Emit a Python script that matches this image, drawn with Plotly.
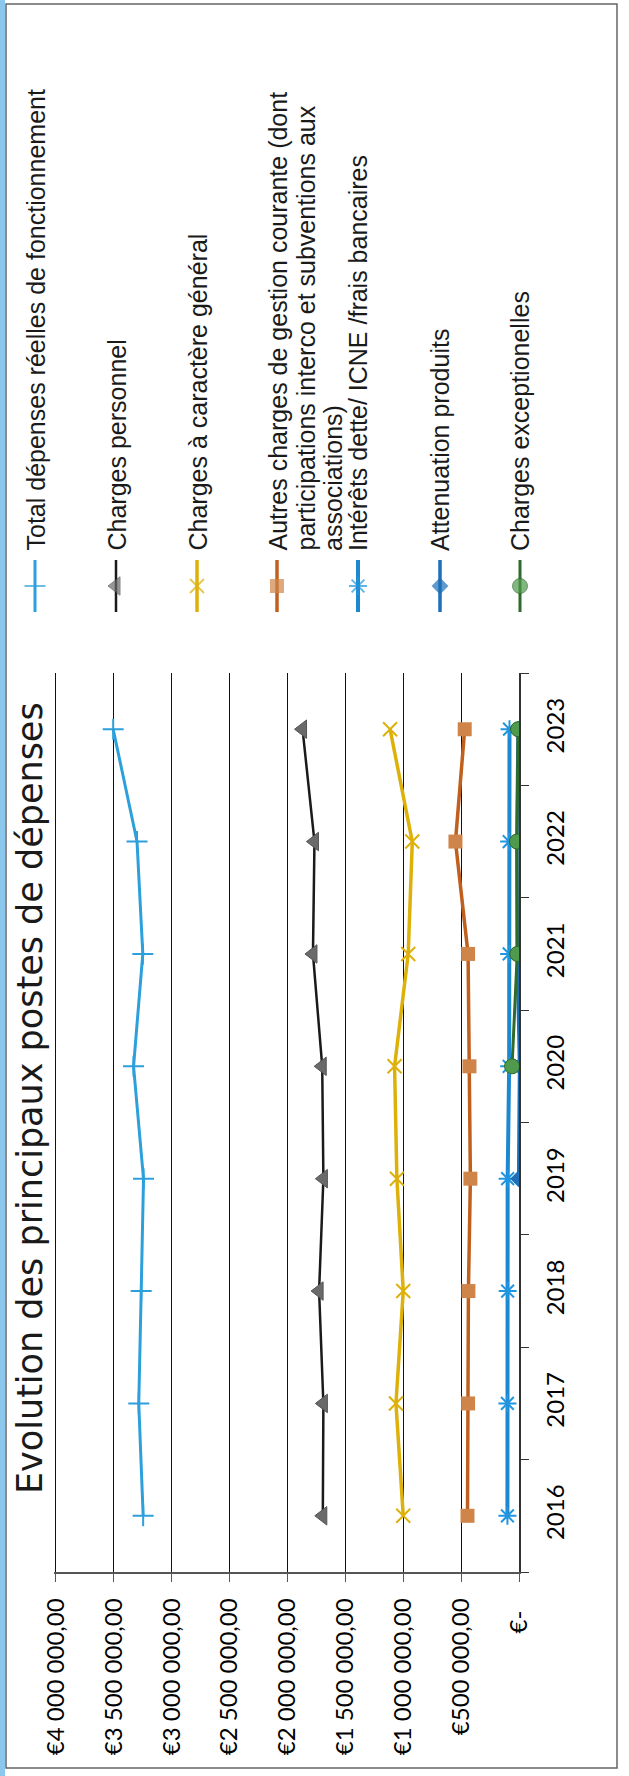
import plotly.graph_objects as go

W, H = 629, 1776

# ---------------- data ----------------
years = ["2016", "2017", "2018", "2019", "2020", "2021", "2022", "2023"]

total = [3247000, 3285000, 3264000, 3244000, 3330000, 3250000, 3300000, 3506000]
personnel = [1695000, 1690000, 1727000, 1690000, 1700000, 1780000, 1767000, 1870000]
general = [1000000, 1063000, 1000000, 1055000, 1075000, 957000, 922000, 1114000]
autres = [445000, 440000, 437000, 420000, 428000, 440000, 549000, 469000]
interets = [100000, 100000, 98000, 98000, 85000, 85000, 85000, 82000]
attenuation = [None, None, None, 3000, -5000, 15000, 18000, 8000]
exceptionnelles = [None, None, None, None, 60000, 15000, 18000, 8000]

value_ticks = [0, 500000, 1000000, 1500000, 2000000, 2500000, 3000000, 3500000, 4000000]
NB = "\u00a0"
value_labels = ["€-" + NB + NB,
                "€500" + NB + "000,00",
                "€1" + NB + "000" + NB + "000,00",
                "€1" + NB + "500" + NB + "000,00",
                "€2" + NB + "000" + NB + "000,00",
                "€2" + NB + "500" + NB + "000,00",
                "€3" + NB + "000" + NB + "000,00",
                "€3" + NB + "500" + NB + "000,00",
                "€4" + NB + "000" + NB + "000,00"]

title_text = "Evolution des principaux postes de dépenses"

# series styles: name, values, line colour, line width, symbol, marker size, marker fill, marker line colour, marker line width
series = [
    ("Total dépenses réelles de fonctionnement", total, "#2DA0DC", 3, "cross-thin", 15, "#2DA0DC", "#2DA0DC", 2),
    ("Charges personnel", personnel, "#1A1A1A", 2.5, "triangle-left", 16, "#6A6A6A", "#555555", 1),
    ("Charges à caractère général", general, "#DDB10A", 3.5, "x-thin", 14, "#DDB10A", "#DDB10A", 2),
    ("Autres charges de gestion courante", autres, "#C0601E", 3.5, "square", 14, "#CF8549", "#CF8549", 0),
    ("Intérêts dette/ ICNE /frais bancaires", interets, "#1C88D0", 4, "asterisk-open", 15, "#2196E0", "#2196E0", 2),
    ("Attenuation produits", attenuation, "#1D6FB8", 3.5, "diamond", 13, "#1D6FB8", "#1D6FB8", 0),
    ("Charges exceptionelles", exceptionnelles, "#2F6B2A", 3, "circle", 15, "#4F9A4C", "#2F6B2A", 1),
]

legend_texts = [
    ["Total dépenses réelles de fonctionnement"],
    ["Charges personnel"],
    ["Charges à caractère général"],
    ["Autres charges de gestion courante (dont",
     "participations interco et subventions aux",
     "associations)"],
    ["Intérêts dette/ ICNE /frais bancaires"],
    ["Attenuation produits"],
    ["Charges exceptionelles"],
]

# ---------------- layout geometry (pixels) ----------------
X_MAX = 4020000          # axis range end (slightly beyond last gridline so it is drawn)
PR, PT, PB = 519, 673, 1572
GRID4M = 56              # pixel position of the €4 000 000 gridline
PL = PR - (PR - GRID4M) * X_MAX / 4000000
LEG_X = [35, 116, 197, 277, 358, 440, 520]
LEG_LINE_STEP = 28
LEG_TOP, LEG_MID, LEG_BOT = 560, 586, 612
LEG_TEXT_BOTTOM = 553

fig = go.Figure()

for name, vals, lc, lw, sym, ms, mf, mlc, mlw in series:
    fig.add_trace(go.Scatter(
        x=vals, y=years, mode="lines+markers", name=name,
        line=dict(color=lc, width=lw),
        marker=dict(symbol=sym, size=ms, color=mf, line=dict(color=mlc, width=mlw)),
        connectgaps=False, showlegend=False, xaxis="x", yaxis="y",
        hoverinfo="skip"))

# legend symbols (drawn manually in pixel space, rotated layout)
annotations = []
for (name, vals, lc, lw, sym, ms, mf, mlc, mlw), lx, lines in zip(series, LEG_X, legend_texts):
    fig.add_trace(go.Scatter(
        x=[lx, lx, lx], y=[LEG_TOP, LEG_MID, LEG_BOT], mode="lines+markers",
        line=dict(color=lc, width=lw),
        marker=dict(symbol=sym, size=[0, ms, 0], color=mf, line=dict(color=mlc, width=mlw)),
        showlegend=False, xaxis="x2", yaxis="y2", hoverinfo="skip"))
    for k, t in enumerate(lines):
        annotations.append(dict(
            x=lx + k * LEG_LINE_STEP, y=LEG_TEXT_BOTTOM, xref="x2", yref="y2",
            text=t, textangle=-90, showarrow=False,
            xanchor="center", yanchor="bottom", align="left",
            font=dict(family="Liberation Sans", size=25, color="#1A1A1A")))

annotations.append(dict(
    x=30, y=1098, xref="x2", yref="y2", text=title_text, textangle=-90,
    showarrow=False, xanchor="center", yanchor="middle",
    font=dict(family="DejaVu Sans", size=35, color="#1A1A1A")))

shapes = [
    dict(type="rect", xref="x2", yref="y2", x0=0, x1=5, y0=0, y1=H,
         fillcolor="#8CC8EE", line=dict(width=0), layer="below"),
    dict(type="rect", xref="x2", yref="y2", x0=6, x1=617, y0=4, y1=1768,
         fillcolor="rgba(0,0,0,0)", line=dict(color="#666666", width=1.5), layer="below"),
]

tickfont = dict(family="Lato", size=24, color="#000000")

fig.update_layout(
    width=W, height=H,
    margin=dict(l=0, r=0, t=0, b=0),
    paper_bgcolor="white", plot_bgcolor="rgba(0,0,0,0)",
    showlegend=False,
    annotations=annotations, shapes=shapes,
    xaxis=dict(domain=[PL / W, PR / W], range=[X_MAX, 0],
               tickvals=value_ticks, ticktext=value_labels, tickangle=-90,
               ticks="outside", ticklen=8, tickwidth=1.3, tickcolor="#555555",
               showline=True, linecolor="#555555", linewidth=1.5,
               showgrid=True, gridcolor="#111111", gridwidth=1.3, zeroline=False,
               tickfont=tickfont, ticklabelstandoff=7, anchor="y",
               automargin=False, fixedrange=True),
    yaxis=dict(domain=[1 - PB / H, 1 - PT / H], type="category",
               categoryorder="array", categoryarray=years, range=[-0.5, 7.5],
               side="right", showline=True, linecolor="#333333", linewidth=1.5,
               ticks="outside", tickson="boundaries", ticklen=8, tickwidth=1.3,
               tickcolor="#333333", tickangle=-90, tickfont=tickfont,
               showgrid=False, zeroline=False, ticklabelstandoff=14,
               anchor="x", automargin=False, fixedrange=True),
    xaxis2=dict(domain=[0, 1], range=[0, W], visible=False, anchor="y2", fixedrange=True),
    yaxis2=dict(domain=[0, 1], range=[H, 0], visible=False, anchor="x2", fixedrange=True),
)

fig.write_html("out.html")
